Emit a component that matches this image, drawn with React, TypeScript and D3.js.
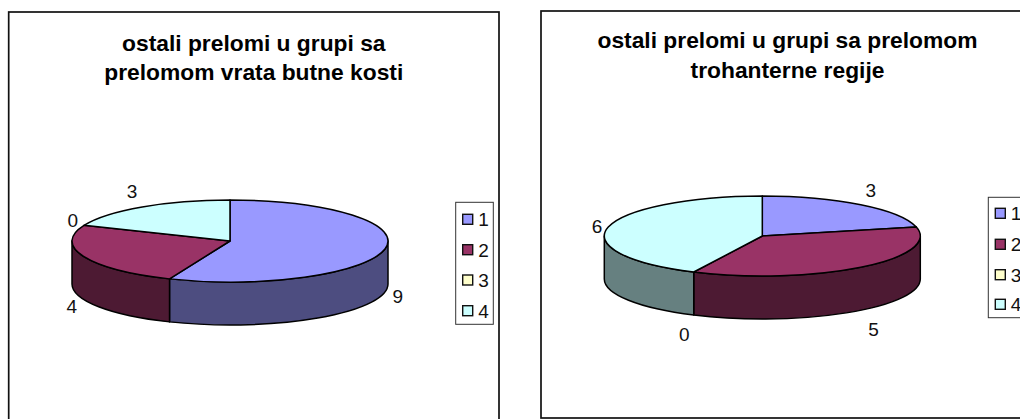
import React from "react";
import * as d3 from "d3";

const categories = ["1", "2", "3", "4"];
const leftValues = [9, 4, 0, 3];
const rightValues = [3, 5, 0, 6];
const leftTitle = ["ostali prelomi u grupi sa", "prelomom vrata butne kosti"];
const rightTitle = ["ostali prelomi u grupi sa prelomom", "trohanterne regije"];
const topColors = ["#9999FF", "#993366", "#FFFFCC", "#CCFFFF"];
const sideColors = ["#4D4D80", "#4D1A33", "#808066", "#668080"];

const FONT = "'Liberation Sans', Arial, sans-serif";
const LABEL_SIZE = 19;
const LABEL_SHIFT = 6.8;
const color = d3.scaleOrdinal<string, string>().domain(categories).range(topColors);
const side = d3.scaleOrdinal<string, string>().domain(categories).range(sideColors);

const panels = [
  {
    values: leftValues, title: leftTitle, titleX: 253.8, titleY: [50.7, 80],
    frame: { x: 8.7, y: 12, w: 490.3, h: 420 },
    pie: { cx: 230, cy: 241, rx: 158, ry: 41, depth: 43 },
    nudges: [[12.7, 4.7], [-12.3, 7], [-11.3, -5.3], [-10.3, -15.3]],
    legend: { x: 455.7, y: 202.3, w: 37.6, h: 122, rows: [219.3, 249.7, 280, 310.7] },
  },
  {
    values: rightValues, title: rightTitle, titleX: 787.5, titleY: [48, 77.7],
    frame: { x: 541, y: 11, w: 500, h: 407 },
    pie: { cx: 762.3, cy: 236, rx: 158, ry: 40, depth: 43 },
    nudges: [[10, -15], [12.8, 19], [-9.4, 19], [-11.3, -1]],
    legend: { x: 988.3, y: 197.3, w: 50, h: 120.4, rows: [213.3, 244.3, 274.7, 304.3] },
  },
];

type Pie = { cx: number; cy: number; rx: number; ry: number; depth: number };
const pt = (p: Pie, a: number, dy = 0): [number, number] => [
  p.cx + p.rx * Math.sin(a),
  p.cy - p.ry * Math.cos(a) + dy,
];
const arcTo = (p: Pie, a0: number, a1: number, dy = 0) => {
  const [x, y] = pt(p, a1, dy);
  const sweep = a1 > a0 ? 1 : 0;
  const large = Math.abs(a1 - a0) > Math.PI ? 1 : 0;
  return `A${p.rx},${p.ry} 0 ${large} ${sweep} ${x},${y}`;
};
const topPath = (p: Pie, a0: number, a1: number) => {
  const [sx, sy] = pt(p, a0);
  return `M${p.cx},${p.cy}L${sx},${sy}${arcTo(p, a0, a1)}Z`;
};
const wallPath = (p: Pie, a0: number, a1: number) => {
  const s = Math.max(a0, Math.PI / 2);
  const e = Math.min(a1, (3 * Math.PI) / 2);
  if (e <= s) return null;
  const [sx, sy] = pt(p, s);
  const [ex, ey] = pt(p, e, p.depth);
  return `M${sx},${sy}${arcTo(p, s, e)}L${ex},${ey}${arcTo(p, e, s, p.depth)}Z`;
};

const pieGen = d3.pie<number>().sort(null).value((d) => d);

function Panel({ cfg }: { cfg: (typeof panels)[number] }) {
  const p = cfg.pie;
  const arcs = pieGen(cfg.values);
  const f = cfg.frame;
  const l = cfg.legend;
  return (
    <g fontFamily={FONT} fill="#000">
      <rect x={f.x} y={f.y} width={f.w} height={f.h} fill="#fff" stroke="#111" strokeWidth={1.7} />
      {cfg.title.map((t, i) => (
        <text key={i} x={cfg.titleX} y={cfg.titleY[i]} textAnchor="middle" fontWeight="bold" fontSize={22.8}>{t}</text>
      ))}
      {arcs.map((a, i) => {
        const d = wallPath(p, a.startAngle, a.endAngle);
        return d && a.value > 0 ? (
          <path key={i} d={d} fill={side(categories[i])} stroke="#000" strokeWidth={1.5} strokeLinejoin="round" />
        ) : null;
      })}
      {arcs.map((a, i) =>
        a.value > 0 ? (
          <path key={i} d={topPath(p, a.startAngle, a.endAngle)} fill={color(categories[i])} stroke="#000" strokeWidth={1.5} strokeLinejoin="round" />
        ) : null,
      )}
      {arcs.map((a, i) => {
        const mid = (a.startAngle + a.endAngle) / 2;
        const front = Math.cos(mid) < 0;
        const [x, y] = pt(p, mid, front ? p.depth : 0);
        return (
          <text key={i} x={x + cfg.nudges[i][0]} y={y + cfg.nudges[i][1] + LABEL_SHIFT} textAnchor="middle" fontSize={LABEL_SIZE} fill="#111">{a.value}</text>
        );
      })}
      <rect x={l.x} y={l.y} width={l.w} height={l.h} fill="#fff" stroke="#333" strokeWidth={1} />
      {categories.map((c, i) => (
        <g key={c}>
          <rect x={l.x + 7} y={l.rows[i] - 5} width={10} height={10} fill={color(c)} stroke="#111" strokeWidth={1.4} />
          <text x={l.x + 22.5} y={l.rows[i] + LABEL_SHIFT} fontSize={LABEL_SIZE} fill="#111">{c}</text>
        </g>
      ))}
    </g>
  );
}

export default function App() {
  return (
    <svg width={1020} height={419} viewBox="0 0 1020 419" style={{ position: "absolute", left: 0, top: 0, background: "#fff" }}>
      {panels.map((cfg, i) => (
        <Panel key={i} cfg={cfg} />
      ))}
    </svg>
  );
}
